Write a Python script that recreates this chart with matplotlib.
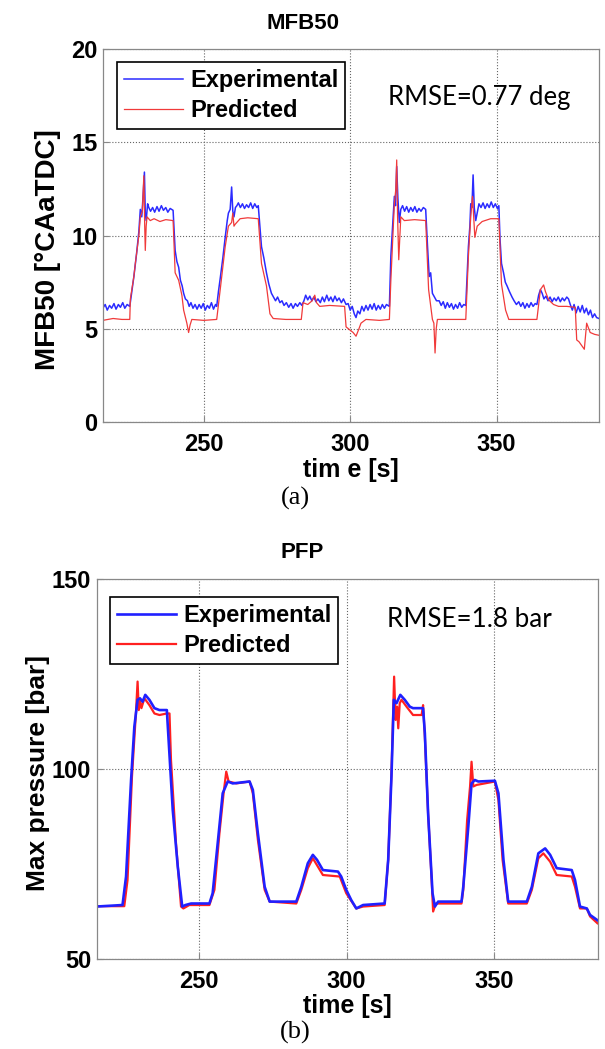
import numpy as np
import matplotlib
matplotlib.use('Agg')
import matplotlib.pyplot as plt

plt.rcParams['font.family'] = ['Liberation Sans', 'DejaVu Sans']

# %% MFB50 data (time [s], value [deg CA aTDC])
mfb_exp_t = [215.5, 216.3, 217.0, 217.8, 218.5, 219.3, 220.0, 220.8, 221.5, 222.3, 223.0, 223.8, 224.7,
             226.1, 227.0, 227.8, 228.3, 228.8, 229.2, 229.7, 230.0, 230.3, 230.8, 231.2, 231.8, 232.5, 233.2,
             234.0, 234.7, 235.5, 236.2, 237.0, 237.7, 238.5, 239.5,
             240.2, 240.8, 241.4, 242.0, 242.6, 243.1, 243.7, 244.4, 245.0, 245.6, 246.3, 247.0, 247.7, 248.4,
             249.1, 249.8, 250.5, 251.2, 251.9, 252.6, 253.3, 254.0, 254.4,
             255.0, 255.6, 256.5, 257.3, 258.0, 258.4, 259.0, 259.5, 259.9, 260.3, 260.8, 261.3, 261.8, 262.5,
             263.2, 263.9, 264.6, 265.3, 266.0, 266.7, 267.4, 268.1, 268.6,
             269.2, 269.7, 270.5, 271.4, 272.2, 273.1, 273.8, 274.5, 275.2, 276.0, 276.7, 277.4, 278.2, 279.0,
             279.8, 280.5, 281.3, 282.0, 282.8, 283.5, 284.2, 284.8, 285.5, 286.2, 286.9, 287.6, 288.3, 289.0,
             289.8, 290.5, 291.2, 292.0, 292.7, 293.4, 294.1, 294.8, 295.5, 296.2, 297.0, 297.7, 298.6,
             299.3, 300.0, 300.7, 301.4, 302.0, 302.6, 303.3, 304.0, 304.7, 305.4, 306.1, 306.8, 307.5, 308.2,
             308.9, 309.6, 310.3, 311.0, 311.7, 312.4, 313.4,
             313.9, 314.5, 315.1, 315.5, 315.9, 316.3, 316.8, 317.3, 317.9, 318.6, 319.3, 320.0, 320.7, 321.4,
             322.1, 322.8, 323.5, 324.2, 325.0, 325.8,
             326.4, 327.0, 327.5, 328.1, 328.8, 329.5, 330.4, 331.1, 331.8, 332.5, 333.2, 333.9, 334.6, 335.3,
             336.0, 336.7, 337.4, 338.1, 338.8, 339.5,
             340.0, 340.4, 340.9, 341.2, 341.6, 342.0, 342.4, 342.9, 343.4, 344.0, 344.7, 345.4, 346.1, 346.8,
             347.5, 348.2, 348.9, 349.6, 350.3, 350.8,
             351.2, 351.7, 352.4, 353.0, 353.6, 354.4, 355.3, 356.0, 356.8, 357.6, 358.3, 359.0, 359.7, 360.4,
             361.1, 361.8, 362.5, 363.2, 363.8,
             364.4, 365.0, 365.6, 366.2, 366.9, 367.6, 368.3, 369.0, 369.7, 370.4, 371.1, 371.8, 372.5, 373.2,
             374.0, 374.6,
             375.2, 375.9, 376.5, 377.2, 377.9, 378.6, 379.3, 380.0, 380.7, 381.4, 382.1, 382.8, 383.5, 384.2, 385.0]
mfb_exp = [6.1, 6.3, 6.0, 6.25, 6.1, 6.35, 6.05, 6.3, 6.15, 6.4, 6.1, 6.3, 6.2,
           7.8, 9.0, 10.2, 11.4, 11.0, 12.0, 13.4, 11.2, 10.8, 11.7, 11.5, 11.3, 11.5, 11.25,
           11.55, 11.3, 11.6, 11.35, 11.5, 11.25, 11.45, 11.35,
           9.2, 8.6, 8.3, 7.6, 7.3, 6.9, 6.6, 6.5, 6.2, 6.4, 6.1, 6.3, 6.05, 6.3,
           6.1, 6.35, 6.0, 6.25, 6.1, 6.4, 6.05, 6.3, 6.2,
           7.0, 7.7, 8.8, 9.9, 10.8, 11.2, 11.4, 12.6, 11.3, 11.0, 11.5, 11.6, 11.75, 11.5,
           11.7, 11.45, 11.65, 11.5, 11.75, 11.45, 11.7, 11.5, 11.6,
           10.4, 9.4, 8.8, 8.0, 7.4, 6.9, 6.7, 6.5, 6.7, 6.4, 6.5, 6.25, 6.4, 6.15,
           6.35, 6.1, 6.35, 6.2, 6.4, 6.25, 6.5, 6.8, 6.55, 6.75, 6.5, 6.7, 6.45, 6.6,
           6.4, 6.7, 6.45, 6.8, 6.5, 6.7, 6.45, 6.75, 6.5, 6.65, 6.4, 6.6, 6.3,
           6.35, 6.0, 6.2, 5.8, 5.6, 5.95, 5.8, 6.2, 5.95, 6.25, 6.0, 6.3, 6.05, 6.35,
           6.0, 6.25, 6.05, 6.3, 6.1, 6.3, 6.2,
           8.9, 10.5, 12.1, 11.6, 13.7, 12.0, 10.7, 11.4, 11.6, 11.3, 11.55, 11.25, 11.5, 11.3,
           11.55, 11.25, 11.45, 11.3, 11.5, 11.4,
           9.5, 7.8, 8.0, 6.9, 6.7, 6.5, 6.5, 6.25, 6.45, 6.1, 6.4, 6.15, 6.35, 6.05,
           6.3, 6.1, 6.4, 6.15, 6.3, 6.25,
           8.0, 9.4, 10.5, 11.7, 11.5, 13.25, 11.5, 10.8, 11.2, 11.7, 11.5, 11.75, 11.45, 11.7,
           11.5, 11.8, 11.5, 11.7, 11.45, 11.6,
           9.8, 8.5, 8.0, 7.5, 7.3, 7.0, 6.7, 6.5, 6.3, 6.45, 6.2, 6.4, 6.1, 6.35,
           6.15, 6.4, 6.2, 6.35, 6.3,
           6.8, 7.1, 6.9, 6.6, 6.75, 6.5, 6.7, 6.45, 6.65, 6.5, 6.7, 6.45, 6.65, 6.5,
           6.7, 6.6,
           6.3, 6.0, 6.3, 5.85, 6.2, 5.9, 6.25, 5.85, 6.1, 5.75, 6.0, 5.6, 5.8, 5.6, 5.55]

mfb_pred_t = [215.5, 219.0, 222.0, 224.7, 224.9, 226.1, 226.6, 227.8, 228.3, 229.0, 229.5, 229.8, 230.0,
              230.3, 230.6, 231.7, 233.0, 235.0, 237.0, 239.5, 240.2, 241.4, 242.5, 243.1, 244.2, 244.8,
              245.3, 245.9, 250.0, 254.4, 255.6, 257.3, 258.4, 259.5, 259.9, 260.3, 260.7, 262.4, 265.0,
              268.6, 269.7, 271.4, 272.6, 273.7, 278.0, 283.3, 283.9, 285.5, 287.0, 287.9, 288.5, 289.6,
              293.0, 298.1, 298.6, 299.8, 301.0, 302.0, 303.0, 303.7, 305.4, 310.0, 313.4, 313.9, 315.1,
              315.6, 315.9, 316.2, 316.6, 317.3, 318.5, 322.0, 325.8, 326.8, 328.1, 328.6, 329.0, 329.4,
              329.8, 335.0, 339.5, 340.4, 341.2, 341.8, 342.2, 342.6, 343.4, 345.1, 348.0, 350.8, 351.7,
              353.1, 354.2, 360.0, 363.8, 365.0, 366.1, 366.7, 367.8, 369.5, 371.2, 374.0, 376.9, 377.4,
              378.2, 379.1, 380.0, 380.8, 382.0, 383.5, 385.0]
mfb_pred = [5.45, 5.55, 5.5, 5.5, 6.6, 7.8, 8.5, 10.0, 11.0, 11.3, 13.2, 10.5, 9.2,
            10.5, 11.0, 10.8, 10.9, 10.75, 10.85, 10.8, 8.0, 7.6, 6.8, 6.0, 5.3, 4.8,
            5.2, 5.5, 5.45, 5.5, 7.1, 9.4, 10.5, 10.7, 11.2, 10.5, 10.6, 10.9, 10.95,
            10.9, 8.5, 7.3, 5.8, 5.55, 5.5, 5.5, 6.4, 6.3, 6.5, 6.8, 6.4, 6.2,
            6.25, 6.2, 5.1, 4.95, 4.8, 4.6, 5.0, 5.3, 5.5, 5.45, 5.5, 7.6, 11.7,
            12.5, 14.05, 11.0, 8.7, 11.0, 10.8, 10.85, 10.8, 7.1, 5.5, 5.3, 3.7, 5.0,
            5.5, 5.5, 5.5, 8.9, 11.0, 12.1, 11.0, 9.9, 10.5, 10.75, 10.9, 10.9, 7.4,
            6.0, 5.5, 5.5, 5.5, 7.1, 7.35, 7.0, 6.55, 6.3, 6.2, 6.2, 6.15, 4.4,
            4.3, 4.1, 3.9, 5.3, 4.8, 4.7, 4.65]

# %% PFP data (time [s], max pressure [bar])
pfp_exp_t = [215.4, 224.2, 225.4, 227.1, 228.2, 229.3, 230.1, 231.0, 231.9, 233.3, 235.0, 236.7, 239.2,
             239.8, 241.2, 242.9, 244.4, 245.5, 247.4, 253.6, 254.7, 256.4, 258.1, 259.8, 261.5, 267.2,
             268.3, 270.0, 272.3, 274.0, 283.0, 284.7, 286.9, 288.6, 290.0, 292.0, 297.1, 298.2, 299.9,
             301.6, 303.3, 305.6, 312.9, 314.1, 315.2, 316.0, 316.9, 318.2, 319.7, 321.4, 322.5, 325.9,
             326.5, 327.6, 329.1, 329.9, 331.0, 338.9, 339.5, 341.2, 342.3, 343.4, 344.6, 350.2, 351.4,
             353.1, 354.7, 361.0, 362.7, 364.9, 367.2, 368.9, 371.1, 376.2, 377.3, 379.0, 381.3, 382.4, 384.9]
pfp_exp = [63.8, 64.2, 71.7, 97.1, 111.1, 118.2, 118.6, 117.7, 119.5, 118.2, 116.0, 115.5, 115.5,
           107.6, 89.2, 74.3, 63.8, 64.2, 64.6, 64.6, 67.3, 80.4, 93.6, 96.7, 96.2, 96.7,
           94.5, 83.1, 69.0, 65.1, 65.1, 69.0, 75.2, 77.4, 76.1, 73.4, 73.0, 71.7, 68.2,
           65.5, 63.3, 64.2, 64.6, 76.1, 98.0, 118.2, 117.3, 119.5, 118.2, 116.4, 116.0, 116.0,
           109.4, 88.3, 67.3, 63.8, 65.1, 65.1, 69.0, 84.8, 96.2, 97.1, 96.7, 96.9, 93.6,
           76.1, 65.1, 65.1, 69.0, 77.8, 79.1, 77.4, 73.9, 73.4, 70.8, 63.8, 63.3, 61.6, 60.2]

pfp_pred_t = [215.4, 224.8, 225.9, 227.4, 228.8, 229.3, 229.7, 230.1, 230.6, 231.6, 233.3, 235.0, 236.7,
              239.2, 240.1, 240.6, 242.3, 244.0, 244.8, 246.8, 253.6, 255.3, 257.0, 258.4, 259.3, 260.1,
              262.7, 267.2, 268.3, 270.0, 272.3, 274.0, 283.0, 284.7, 286.9, 288.6, 290.3, 292.0, 297.7,
              299.9, 303.3, 305.6, 312.9, 314.1, 315.2, 316.1, 316.6, 317.1, 317.5, 318.0, 318.6, 320.3,
              322.5, 325.4, 325.9, 326.5, 327.6, 328.8, 329.3, 330.2, 338.9, 339.5, 340.8, 341.8, 342.3,
              342.9, 344.0, 350.2, 351.4, 352.8, 354.7, 361.0, 362.7, 364.9, 366.6, 368.9, 371.1, 376.2,
              377.3, 379.0, 381.3, 382.4, 384.9]
pfp_pred = [63.9, 63.9, 70.8, 98.0, 115.5, 123.0, 115.5, 118.2, 116.0, 118.6, 116.8, 114.6, 114.2,
            114.6, 114.6, 102.4, 80.4, 63.8, 63.3, 64.2, 64.2, 68.2, 83.1, 93.6, 99.3, 96.7,
            96.2, 96.7, 93.6, 81.4, 68.2, 65.1, 64.6, 68.2, 73.9, 76.5, 74.3, 72.1, 71.7,
            67.3, 63.3, 63.8, 64.2, 76.1, 98.9, 124.3, 112.9, 116.4, 110.7, 117.3, 118.2, 116.4,
            114.2, 114.2, 116.8, 108.5, 88.3, 70.8, 62.5, 64.6, 64.6, 68.2, 86.5, 95.4, 101.9,
            95.4, 95.8, 96.7, 91.8, 76.1, 64.6, 64.6, 68.2, 76.5, 77.8, 75.6, 72.1, 71.7,
            69.0, 63.3, 63.3, 61.2, 59.4]

blue = '#2b2bff'
red = '#f03a3a'

# %%
fig = plt.figure(figsize=(6.05, 10.49), dpi=100)
ax1 = fig.add_axes([0.170, 0.5977, 0.820, 0.3556])
ax2 = fig.add_axes([0.160, 0.0858, 0.828, 0.3623])


def style_axes(ax):
    ax.set_xlim(215.5, 385)
    ax.set_xticks([250, 300, 350])
    ax.grid(True, linestyle=':', color='#666666', linewidth=0.8)
    for s in ax.spines.values():
        s.set_color('#888888')
        s.set_linewidth(0.9)
    ax.tick_params(direction='in', length=4, color='#888888', labelsize=17)
    ax.tick_params(axis='x', pad=8)
    ax.tick_params(axis='y', pad=4)
    for lab in ax.get_xticklabels() + ax.get_yticklabels():
        lab.set_fontweight('bold')


legend_kw = dict(loc='upper left', borderaxespad=0, prop={'size': 17, 'weight': 'bold'},
                 handlelength=2.5, labelspacing=0.3, fancybox=False, framealpha=1,
                 edgecolor='black', borderpad=0.3, handletextpad=0.3)

# top panel
ax1.plot(mfb_exp_t, mfb_exp, color=blue, lw=1.1, label='Experimental')
ax1.plot(mfb_pred_t, mfb_pred, color=red, lw=0.9, label='Predicted')
ax1.set_ylim(0, 20)
ax1.set_yticks([0, 5, 10, 15, 20])
style_axes(ax1)
ax1.set_xlabel('tim e [s]', fontsize=18, fontweight='bold', labelpad=1)
ax1.set_ylabel('MFB50 [°CAaTDC]', fontsize=20, fontweight='bold')
ax1.yaxis.set_label_coords(-0.085, 0.461)
leg = ax1.legend(bbox_to_anchor=(0.028, 0.965), **legend_kw)
leg.get_frame().set_linewidth(1.2)
ax1.text(0.575, 0.869, 'RMSE=0.77 deg', transform=ax1.transAxes, fontsize=18.5,
         family=['Lato', 'DejaVu Sans'], va='center', ha='left')
fig.text(0.5, 0.978, 'MFB50', ha='center', va='center', fontsize=16, fontweight='bold')
fig.text(0.488, 1 - 498 / 1049, '(a)', ha='center', va='center', fontsize=19,
         family=['Liberation Serif', 'DejaVu Serif'])

# bottom panel
l_pred, = ax2.plot(pfp_pred_t, pfp_pred, color='#ff2020', lw=1.6)
l_exp, = ax2.plot(pfp_exp_t, pfp_exp, color='#2020ff', lw=1.9)
ax2.set_ylim(50, 150)
ax2.set_yticks([50, 100, 150])
style_axes(ax2)
ax2.set_xlabel('time [s]', fontsize=18, fontweight='bold', labelpad=1)
ax2.set_ylabel('Max pressure [bar]', fontsize=19, fontweight='bold')
ax2.yaxis.set_label_coords(-0.094, 0.489)
leg2 = ax2.legend([l_exp, l_pred], ['Experimental', 'Predicted'],
                  bbox_to_anchor=(0.026, 0.953), **legend_kw)
leg2.get_frame().set_linewidth(1.2)
ax2.text(0.579, 0.892, 'RMSE=1.8 bar', transform=ax2.transAxes, fontsize=18.7,
         family=['Lato', 'DejaVu Sans'], va='center', ha='left')
fig.text(0.5, 0.473, 'PFP', ha='center', va='center', fontsize=16, fontweight='bold')
fig.text(0.488, 1 - 1032 / 1049, '(b)', ha='center', va='center', fontsize=19,
         family=['Liberation Serif', 'DejaVu Serif'])

fig.savefig('out.png', dpi=100)
